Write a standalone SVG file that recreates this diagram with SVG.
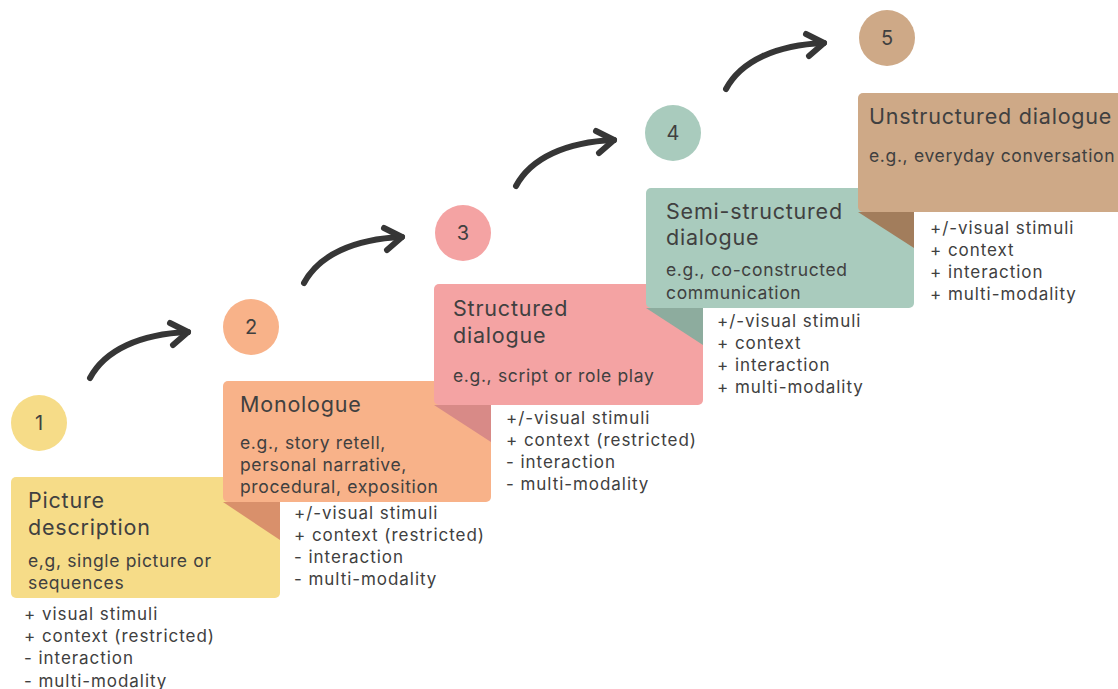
<svg xmlns="http://www.w3.org/2000/svg" width="1118" height="689" viewBox="0 0 1118 689">
<style>
text{font-family:Inter,"Noto Sans","Liberation Sans",sans-serif;fill:#404040}
.t{font-size:21.5px;letter-spacing:0.8px}
.s{font-size:17.5px;letter-spacing:0.65px}
.l{font-size:17px;letter-spacing:0.95px}
.n{font-size:20px;text-anchor:middle}
.arr{fill:none;stroke:#363636;stroke-width:6;stroke-linecap:round;stroke-linejoin:round}
</style>
<defs>
<g id="arrow">
<path class="arr" d="M0,0 C15,-28 50,-44 98,-46"/>
<path class="arr" d="M80,-55 L98,-46 L83,-33"/>
</g>
</defs>
<rect width="1118" height="689" fill="#fff"/>
<g id="connectors">
<use href="#arrow" x="90" y="378"/>
<use href="#arrow" x="304" y="283"/>
<use href="#arrow" x="516" y="186"/>
<use href="#arrow" x="726" y="89"/>
</g>
<g id="step1">
<circle cx="39" cy="423" r="28" fill="#F6DC88"/>
<text class="n" x="39" y="430">1</text>
<rect x="11" y="477" width="269" height="121" rx="5" fill="#F6DC88"/>
<polygon points="223,502 280,502 280,540" fill="#D9906B"/>
<text class="t" x="28" y="508">Picture</text>
<text class="t" x="28" y="535">description</text>
<text class="s" x="28" y="567">e,g, single picture or</text>
<text class="s" x="28" y="589">sequences</text>
<text class="l" x="24" y="620">+ visual stimuli</text>
<text class="l" x="24" y="642">+ context (restricted)</text>
<text class="l" x="24" y="664">- interaction</text>
<text class="l" x="24" y="687">- multi-modality</text>
</g>
<g id="step2">
<circle cx="251" cy="327" r="28" fill="#F8B289"/>
<text class="n" x="251" y="334">2</text>
<rect x="223" y="381" width="268" height="121" rx="5" fill="#F8B289"/>
<polygon points="434,405 491,405 491,442" fill="#D88A87"/>
<text class="t" x="240" y="412">Monologue</text>
<text class="s" x="240" y="449">e.g., story retell,</text>
<text class="s" x="240" y="471">personal narrative,</text>
<text class="s" x="240" y="493">procedural, exposition</text>
<text class="l" x="294" y="519">+/-visual stimuli</text>
<text class="l" x="294" y="541">+ context (restricted)</text>
<text class="l" x="294" y="563">- interaction</text>
<text class="l" x="294" y="585">- multi-modality</text>
</g>
<g id="step3">
<circle cx="463" cy="233" r="28" fill="#F4A3A3"/>
<text class="n" x="463" y="240">3</text>
<rect x="434" y="284" width="269" height="121" rx="5" fill="#F4A3A3"/>
<polygon points="646,308 703,308 703,345" fill="#8DAC9E"/>
<text class="t" x="453" y="316">Structured</text>
<text class="t" x="453" y="343">dialogue</text>
<text class="s" x="453" y="382">e.g., script or role play</text>
<text class="l" x="506" y="424">+/-visual stimuli</text>
<text class="l" x="506" y="446">+ context (restricted)</text>
<text class="l" x="506" y="468">- interaction</text>
<text class="l" x="506" y="490">- multi-modality</text>
</g>
<g id="step4">
<circle cx="673" cy="133" r="28" fill="#A9CBBD"/>
<text class="n" x="673" y="140">4</text>
<rect x="646" y="188" width="268" height="120" rx="5" fill="#A9CBBD"/>
<polygon points="858,212 914,212 914,248" fill="#A27D5C"/>
<text class="t" x="666" y="219">Semi-structured</text>
<text class="t" x="666" y="245">dialogue</text>
<text class="s" x="666" y="276">e.g., co-constructed</text>
<text class="s" x="666" y="299">communication</text>
<text class="l" x="717" y="327">+/-visual stimuli</text>
<text class="l" x="717" y="349">+ context</text>
<text class="l" x="717" y="371">+ interaction</text>
<text class="l" x="717" y="393">+ multi-modality</text>
</g>
<g id="step5">
<circle cx="887" cy="38" r="28" fill="#CEA987"/>
<text class="n" x="887" y="45">5</text>
<rect x="858" y="93" width="270" height="119" rx="5" fill="#CEA987"/>
<text class="t" x="869" y="124">Unstructured dialogue</text>
<text class="s" x="869" y="162">e.g., everyday conversation</text>
<text class="l" x="930" y="234">+/-visual stimuli</text>
<text class="l" x="930" y="256">+ context</text>
<text class="l" x="930" y="278">+ interaction</text>
<text class="l" x="930" y="300">+ multi-modality</text>
</g>
</svg>
